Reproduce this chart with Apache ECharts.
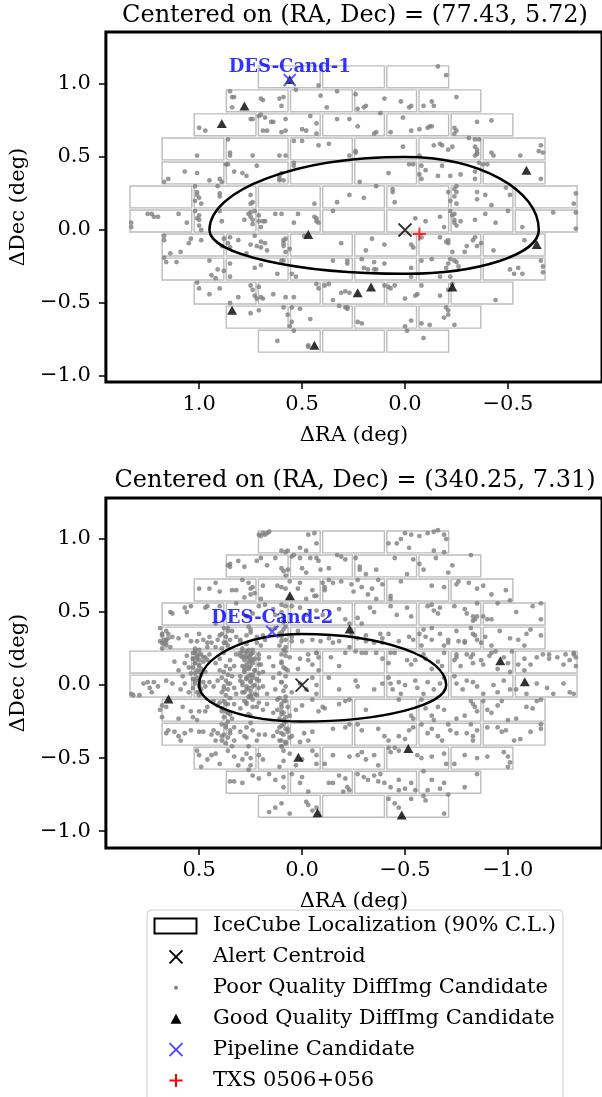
<!DOCTYPE html>
<html><head><meta charset="utf-8">
<script src="https://cdn.jsdelivr.net/npm/echarts@6/dist/echarts.min.js"></script>
<style>html,body{margin:0;padding:0;background:#fff}#chart{width:602px;height:1097px}</style>
</head><body><div id="chart"></div>
<script>
// ---------------- data ----------------
const panelTitles = ['Centered on (RA, Dec) = (77.43, 5.72)', 'Centered on (RA, Dec) = (340.25, 7.31)'];
const xTicks1 = [1.0, 0.5, 0.0, -0.5];
const xTicks2 = [0.5, 0.0, -0.5, -1.0];
const yTicks = [-1.0, -0.5, 0.0, 0.5, 1.0];
const xRange1 = [-0.957, 1.453];
const yRange1 = [-1.041, 1.356];
const xRange2 = [-1.457, 0.953];
const yRange2 = [-1.116, 1.281];

// DECam CCD footprint (degrees)
const ccdRowCounts = [3, 4, 5, 6, 6, 7, 7, 6, 6, 5, 4, 3];
const ccdSize = [0.300, 0.150];
const ccdPitch = [0.312, 0.1646];
const pointing1 = [0.25, 0.144];
const pointing2 = [-0.25, 0.075];

// IceCube 90% contour extents [RA+, RA-, Dec+, Dec-]
const contour1 = [0.95, 0.65, 0.50, 0.30];
const contour2 = [0.50, 0.70, 0.35, 0.25];

const alert1 = [[0, 0]];
const alert2 = [[0, 0]];
const pipeline1 = [[0.56, 1.027]];
const pipeline2 = [[0.145, 0.365]];
const pipelineNames = ['DES-Cand-1', 'DES-Cand-2'];
const txs1 = [[-0.07, -0.027]];

const good1 = [[0.78,0.85],[0.89,0.73],[-0.59,0.41],[0.47,-0.03],[-0.64,-0.10],[0.165,-0.39],[0.23,-0.43],[-0.23,-0.39],[0.84,-0.55],[0.44,-0.79],[0.56,1.03]];
const good2 = [[0.059,0.612],[-0.231,0.384],[-0.963,0.166],[-1.082,0.023],[0.649,-0.096],[-0.516,-0.434],[0.018,-0.495],[-0.075,-0.875],[-0.484,-0.890]];

const poor1 = [
[-0.16,1.12],[-0.20,1.06],[0.42,0.99],[0.53,0.96],
[0.85,0.95],[0.84,0.91],[0.83,0.91],[0.84,0.84],[0.70,0.90],[0.69,0.89],[0.61,0.90],[0.59,0.91],[0.60,0.85],[0.41,0.92],[0.38,0.84],[0.33,0.95],[0.24,0.93],[0.23,0.83],[0.20,0.84],[0.19,0.85],[0.10,0.90],[0.02,0.88],[-0.02,0.84],[-0.03,0.85],[-0.09,0.85],[-0.13,0.88],[-0.14,0.85],[-0.25,0.91],
[1.00,0.70],[0.97,0.68],[0.75,0.76],[0.74,0.76],[0.71,0.78],[0.70,0.79],[0.68,0.77],[0.69,0.68],[0.67,0.68],[0.65,0.74],[0.64,0.74],[0.58,0.76],[0.58,0.68],[0.60,0.67],[0.50,0.69],[0.48,0.68],[0.46,0.78],[0.43,0.66],[0.43,0.73],[0.33,0.76],[0.27,0.76],[0.23,0.71],[0.14,0.67],[0.15,0.66],[0.12,0.80],[0.07,0.67],[0.01,0.77],[-0.03,0.68],[-0.07,0.69],[-0.11,0.70],[-0.12,0.71],[-0.13,0.71],[-0.24,0.70],[-0.25,0.68],[-0.24,0.66],[-0.35,0.74],[-0.42,0.75],
[1.01,0.51],[0.86,0.62],[0.85,0.53],[0.85,0.51],[0.74,0.51],[0.61,0.51],[0.58,0.51],[0.54,0.61],[0.50,0.61],[0.42,0.58],[0.37,0.59],[0.24,0.54],[0.27,0.51],[0.24,0.53],[0.01,0.57],[-0.07,0.51],[-0.14,0.58],[-0.17,0.59],[-0.18,0.58],[-0.21,0.55],[-0.23,0.57],[-0.31,0.63],[-0.34,0.62],[-0.34,0.57],[-0.35,0.55],[-0.35,0.53],[-0.35,0.52],[-0.34,0.51],[-0.36,0.62],[-0.42,0.53],[-0.43,0.51],[-0.56,0.51],[-0.66,0.58],[-0.65,0.54],[-0.67,0.53],
[1.17,0.33],[1.15,0.35],[1.07,0.40],[1.01,0.39],[0.95,0.34],[0.90,0.35],[0.89,0.33],[0.87,0.45],[0.86,0.45],[0.83,0.40],[0.79,0.39],[0.77,0.37],[0.72,0.44],[0.61,0.35],[0.60,0.39],[0.61,0.37],[0.61,0.34],[0.59,0.34],[0.54,0.46],[0.54,0.44],[0.22,0.33],[0.08,0.39],[-0.02,0.45],[-0.04,0.45],[-0.08,0.44],[-0.07,0.38],[-0.08,0.35],[-0.10,0.41],[-0.16,0.37],[-0.18,0.44],[-0.22,0.37],[-0.27,0.38],[-0.34,0.40],[-0.34,0.35],[-0.36,0.46],[-0.38,0.45],[-0.40,0.45],[-0.66,0.35],
[1.02,0.30],[-0.25,0.26],[-0.35,0.26],
[1.01,0.26],[1.01,0.24],[1.00,0.22],[1.02,0.20],[0.99,0.18],[0.91,0.30],[0.90,0.25],[0.90,0.23],[0.75,0.24],[0.74,0.19],[0.75,0.18],[0.44,0.18],[0.33,0.19],[0.27,0.24],[0.20,0.22],[0.14,0.30],[0.06,0.28],[0.06,0.26],[0.05,0.19],[-0.21,0.26],[-0.24,0.28],[-0.24,0.23],[-0.25,0.30],[-0.22,0.20],[-0.25,0.18],[-0.35,0.21],[-0.39,0.24],[-0.42,0.17],[-0.49,0.29],[-0.51,0.24],[-0.83,0.25],[-0.82,0.18],
[1.33,0.05],[1.33,0.02],[1.25,0.11],[1.23,0.11],[1.22,0.09],[1.20,0.09],[1.10,0.11],[1.06,0.05],[1.02,0.13],[1.01,0.08],[1.00,0.10],[1.00,0.07],[1.00,0.03],[0.99,0.00],[0.89,0.06],[0.90,0.13],[0.78,0.07],[0.76,0.11],[0.75,0.12],[0.75,0.09],[0.73,0.13],[0.74,0.07],[0.74,0.04],[0.71,0.10],[0.71,0.06],[0.70,0.02],[0.69,0.06],[0.68,0.06],[0.63,0.11],[0.60,0.11],[0.54,0.05],[0.52,0.11],[0.44,0.09],[0.43,0.08],[0.43,0.06],[0.42,0.05],[0.35,0.13],[-0.05,0.08],[-0.10,0.06],[-0.17,0.09],[-0.19,0.02],[-0.22,0.13],[-0.23,0.10],[-0.24,0.11],[-0.24,0.07],[-0.24,0.05],[-0.25,0.03],[-0.27,0.06],[-0.34,0.07],[-0.39,0.11],[-0.44,0.05],[-0.50,0.13],[-0.57,0.02],[-0.72,0.12],[-0.83,0.01],[-0.83,0.12],
[1.17,-0.04],[1.17,-0.07],[1.14,-0.16],[1.09,-0.15],[1.05,-0.09],[1.04,-0.06],[0.99,-0.07],[0.89,-0.11],[0.88,-0.06],[0.86,-0.09],[0.85,-0.12],[0.85,-0.05],[0.81,-0.07],[0.77,-0.16],[0.75,-0.10],[0.73,-0.04],[0.72,-0.11],[0.70,-0.12],[0.70,-0.08],[0.68,-0.09],[0.67,-0.14],[0.59,-0.07],[0.59,-0.09],[0.59,-0.11],[0.58,-0.15],[0.56,-0.13],[0.58,-0.06],[0.49,-0.04],[0.31,-0.09],[0.19,-0.14],[0.16,-0.06],[0.10,-0.10],[-0.03,-0.10],[-0.04,-0.12],[-0.08,-0.05],[-0.17,-0.05],[-0.20,-0.08],[-0.21,-0.07],[-0.21,-0.09],[-0.23,-0.15],[-0.29,-0.15],[-0.30,-0.11],[-0.33,-0.07],[-0.35,-0.11],[-0.34,-0.05],[-0.37,-0.09],[-0.43,-0.14],[-0.58,-0.07],
[1.17,-0.19],[1.16,-0.22],[1.11,-0.22],[0.95,-0.21],[0.94,-0.31],[0.92,-0.33],[0.91,-0.27],[0.88,-0.28],[0.85,-0.23],[0.85,-0.32],[0.73,-0.26],[0.70,-0.24],[0.62,-0.30],[0.60,-0.21],[0.59,-0.21],[0.55,-0.30],[0.53,-0.32],[0.35,-0.21],[0.28,-0.21],[0.28,-0.23],[0.21,-0.20],[0.15,-0.22],[0.20,-0.26],[0.18,-0.27],[0.15,-0.27],[0.14,-0.27],[0.10,-0.23],[-0.03,-0.26],[-0.03,-0.32],[-0.08,-0.21],[-0.13,-0.20],[-0.17,-0.32],[-0.22,-0.32],[-0.20,-0.26],[-0.21,-0.23],[-0.22,-0.20],[-0.24,-0.21],[-0.25,-0.22],[-0.26,-0.25],[-0.51,-0.27],[-0.53,-0.30],[-0.55,-0.26],[-0.57,-0.30],[-0.66,-0.21],[-0.67,-0.25],[-0.67,-0.29],
[1.01,-0.36],[1.00,-0.40],[0.95,-0.44],[0.90,-0.40],[0.85,-0.50],[0.81,-0.46],[0.75,-0.38],[0.74,-0.41],[0.73,-0.45],[0.72,-0.47],[0.70,-0.46],[0.71,-0.39],[0.69,-0.47],[0.64,-0.44],[0.58,-0.46],[0.54,-0.46],[0.43,-0.37],[0.42,-0.40],[0.39,-0.38],[0.37,-0.37],[0.35,-0.48],[0.31,-0.43],[0.29,-0.42],[0.27,-0.43],[0.10,-0.38],[0.08,-0.39],[0.07,-0.40],[0.05,-0.38],[0.00,-0.47],[-0.05,-0.45],[-0.06,-0.44],[-0.08,-0.38],[-0.17,-0.45],[-0.21,-0.41],[-0.23,-0.37],[-0.44,-0.48],
[0.71,-0.55],[0.75,-0.57],[0.59,-0.53],[0.55,-0.53],[0.51,-0.54],[0.57,-0.58],[0.46,-0.61],[0.55,-0.63],[0.56,-0.66],[0.54,-0.69],[0.32,-0.52],[0.29,-0.53],[0.28,-0.54],[0.28,-0.53],[0.23,-0.63],[0.21,-0.64],[0.00,-0.66],[-0.01,-0.69],[-0.03,-0.62],[-0.08,-0.64],[-0.12,-0.65],[-0.19,-0.60],[-0.21,-0.55],[-0.21,-0.58],[-0.20,-0.53],[-0.24,-0.65],
[0.62,-0.76],[0.47,-0.80],[0.47,-0.79],[-0.09,-0.74]
];

const poor2 = [
[0.21,1.03],[0.19,1.04],[0.18,1.03],[0.16,1.05],[0.20,1.02],[0.17,1.04],[0.08,0.91],[0.10,0.92],[0.07,0.92],[0.01,0.94],[-0.02,0.92],[-0.03,1.03],[-0.06,1.04],[-0.07,0.97],[-0.42,0.97],[-0.46,0.97],[-0.48,1.00],[-0.50,1.04],[-0.53,1.03],[-0.52,0.94],[-0.57,1.02],[-0.61,1.04],[-0.64,1.05],[-0.66,1.06],[-0.69,1.03],[-0.70,1.00],[-0.64,0.92],[-0.69,0.91],
[0.36,0.82],[0.35,0.83],[0.35,0.81],[0.31,0.85],[0.28,0.81],[0.22,0.85],[0.20,0.87],[0.17,0.82],[0.13,0.87],[0.10,0.80],[0.09,0.78],[0.08,0.75],[0.07,0.79],[0.05,0.88],[0.04,0.89],[0.01,0.87],[0.00,0.80],[-0.02,0.77],[-0.04,0.87],[-0.07,0.87],[-0.08,0.85],[-0.09,0.79],[-0.13,0.80],[-0.17,0.89],[-0.19,0.88],[-0.21,0.86],[-0.26,0.87],[-0.28,0.81],[-0.28,0.79],[-0.31,0.76],[-0.36,0.79],[-0.45,0.87],[-0.51,0.76],[-0.54,0.86],[-0.57,0.83],[-0.59,0.79],[-0.65,0.87],[-0.71,0.77],[-0.73,0.82],[-0.82,0.89],
[0.50,0.66],[0.45,0.66],[0.42,0.70],[0.40,0.64],[0.34,0.65],[0.32,0.65],[0.29,0.72],[0.28,0.60],[0.26,0.70],[0.25,0.66],[0.24,0.67],[0.25,0.62],[0.23,0.63],[0.19,0.68],[0.20,0.59],[0.12,0.68],[0.10,0.67],[0.08,0.66],[0.06,0.71],[0.01,0.70],[0.02,0.66],[-0.05,0.65],[-0.06,0.61],[-0.07,0.61],[-0.02,0.59],[-0.10,0.70],[-0.11,0.67],[-0.13,0.72],[-0.11,0.65],[-0.15,0.70],[-0.19,0.71],[-0.24,0.69],[-0.25,0.64],[-0.27,0.72],[-0.29,0.67],[-0.32,0.62],[-0.34,0.66],[-0.37,0.72],[-0.39,0.69],[-0.36,0.59],[-0.43,0.61],[-0.43,0.59],[-0.48,0.71],[-0.63,0.68],[-0.69,0.67],[-0.75,0.69],[-0.76,0.71],[-0.81,0.70],[-0.85,0.66],[-0.88,0.68],[-0.92,0.62],[-0.99,0.65],[-1.01,0.58],
[0.64,0.50],[0.63,0.49],[0.57,0.53],[0.56,0.50],[0.54,0.54],[0.47,0.53],[0.46,0.54],[0.42,0.42],[0.40,0.54],[0.32,0.56],[0.27,0.47],[0.24,0.49],[0.21,0.54],[0.18,0.55],[0.14,0.52],[0.13,0.48],[0.10,0.55],[0.10,0.50],[0.09,0.47],[0.09,0.43],[0.08,0.54],[0.05,0.54],[0.01,0.53],[-0.02,0.48],[-0.07,0.51],[-0.10,0.48],[-0.18,0.52],[-0.21,0.45],[-0.23,0.42],[-0.27,0.46],[-0.29,0.42],[-0.33,0.53],[-0.35,0.50],[-0.43,0.54],[-0.46,0.48],[-0.51,0.53],[-0.53,0.47],[-0.61,0.54],[-0.63,0.55],[-0.64,0.51],[-0.66,0.49],[-0.67,0.53],[-0.74,0.54],[-0.79,0.52],[-0.80,0.49],[-0.83,0.47],[-0.83,0.44],[-0.84,0.45],[-0.85,0.47],[-0.85,0.56],[-0.88,0.47],[-0.90,0.45],[-0.92,0.45],[-0.95,0.56],[-1.04,0.50],[-1.12,0.54],[-1.16,0.56],[-1.16,0.45],
[0.68,0.35],[0.67,0.31],[0.68,0.29],[0.66,0.29],[0.66,0.31],[0.65,0.35],[0.63,0.33],[0.60,0.32],[0.56,0.34],[0.54,0.30],[0.50,0.35],[0.48,0.31],[0.46,0.26],[0.45,0.33],[0.44,0.29],[0.40,0.34],[0.41,0.31],[0.42,0.26],[0.36,0.39],[0.34,0.37],[0.32,0.33],[0.30,0.31],[0.27,0.34],[0.25,0.38],[0.22,0.33],[0.19,0.34],[0.20,0.27],[0.18,0.31],[0.15,0.38],[0.13,0.39],[0.11,0.35],[0.10,0.33],[0.09,0.38],[0.10,0.30],[0.08,0.26],[0.08,0.31],[0.05,0.33],[0.02,0.37],[0.00,0.30],[-0.05,0.31],[-0.09,0.30],[-0.13,0.32],[-0.18,0.30],[-0.24,0.35],[-0.27,0.32],[-0.31,0.34],[-0.35,0.29],[-0.38,0.35],[-0.39,0.32],[-0.42,0.35],[-0.47,0.30],[-0.52,0.33],[-0.54,0.31],[-0.57,0.35],[-0.59,0.38],[-0.60,0.33],[-0.63,0.31],[-0.63,0.39],[-0.67,0.35],[-0.69,0.27],[-0.71,0.31],[-0.75,0.37],[-0.76,0.30],[-0.79,0.29],[-0.83,0.35],[-0.84,0.34],[-0.85,0.31],[-0.82,0.39],[-0.89,0.33],[-0.92,0.27],[-0.96,0.37],[-1.01,0.32],[-1.05,0.31],[-1.09,0.35],[-1.11,0.38],[-1.16,0.34],
[0.66,0.27],[0.51,0.30],[0.46,0.29],[0.37,0.29],[0.30,0.30],[0.22,0.29],[0.11,0.27],[0.05,0.30],[-0.15,0.29],[-0.23,0.26],[-0.31,0.30],[-0.39,0.29],[-0.58,0.27],[-0.71,0.29],[-0.79,0.30],[-0.87,0.29],[-1.08,0.27],
[0.52,0.23],[0.51,0.19],[0.50,0.21],[0.30,0.22],[0.29,0.19],[0.27,0.23],[0.26,0.19],[0.25,0.21],[0.24,0.22],[0.08,0.23],[0.06,0.19],[-0.03,0.21],[-0.07,0.22],[-0.08,0.19],[-0.21,0.22],[-0.26,0.23],[-0.36,0.22],[-0.45,0.22],[-0.75,0.19],[-0.80,0.21],[-0.83,0.21],[-0.92,0.22],[-0.94,0.23],[-1.02,0.23],[-1.08,0.18],[-1.14,0.19],[-1.20,0.21],[-1.28,0.21],[-1.32,0.22],[-1.33,0.19],
[0.52,0.22],[0.51,0.18],[0.52,0.15],[0.50,0.13],[0.50,0.09],[0.48,0.19],[0.46,0.17],[0.45,0.21],[0.42,0.15],[0.40,0.18],[0.38,0.22],[0.35,0.17],[0.33,0.13],[0.32,0.21],[0.29,0.23],[0.27,0.19],[0.26,0.16],[0.25,0.13],[0.25,0.21],[0.24,0.17],[0.23,0.10],[0.28,0.10],[0.21,0.18],[0.20,0.14],[0.19,0.09],[0.16,0.19],[0.14,0.13],[0.10,0.21],[0.10,0.15],[0.08,0.11],[0.01,0.18],[0.02,0.11],[-0.03,0.17],[-0.05,0.14],[-0.07,0.22],[-0.08,0.10],[-0.14,0.19],[-0.18,0.13],[-0.29,0.22],[-0.31,0.22],[-0.39,0.18],[-0.42,0.15],[-0.43,0.22],[-0.51,0.17],[-0.53,0.14],[-0.55,0.17],[-0.59,0.21],[-0.60,0.18],[-0.63,0.11],[-0.66,0.16],[-0.69,0.22],[-0.68,0.13],[-0.74,0.17],[-0.75,0.21],[-0.77,0.13],[-0.82,0.19],[-0.83,0.15],[-0.87,0.17],[-0.88,0.14],[-0.91,0.20],[-0.95,0.11],[-0.98,0.19],[-1.00,0.15],[-1.01,0.09],[-1.05,0.14],[-1.08,0.10],[-1.11,0.14],[-1.17,0.21],[-1.20,0.18],[-1.24,0.19],[-1.27,0.14],[-1.30,0.17],[-1.32,0.21],[-1.33,0.13],
[0.83,-0.06],[0.82,-0.07],[0.79,-0.07],[0.77,0.01],[0.75,0.02],[0.74,-0.02],[0.73,-0.05],[0.72,0.02],[0.70,-0.01],[0.66,0.03],[0.63,0.01],[0.59,-0.03],[0.57,0.01],[0.55,-0.05],[0.52,0.03],[0.50,0.00],[0.50,-0.05],[0.45,0.02],[0.43,-0.01],[0.41,0.03],[0.38,-0.03],[0.36,0.01],[0.33,-0.02],[0.32,-0.06],[0.30,0.03],[0.29,0.00],[0.27,-0.03],[0.26,0.06],[0.25,0.02],[0.24,-0.01],[0.23,-0.06],[0.25,-0.07],[0.21,0.03],[0.19,-0.01],[0.17,-0.06],[0.14,0.05],[0.13,-0.03],[0.10,0.02],[0.08,-0.01],[0.05,-0.05],[0.01,0.01],[-0.02,-0.03],[-0.05,0.05],[-0.07,0.00],[-0.07,-0.06],[-0.13,0.05],[-0.18,-0.03],[-0.26,0.03],[-0.27,-0.01],[-0.35,-0.03],[-0.39,0.01],[-0.42,0.05],[-0.43,0.01],[-0.44,-0.03],[-0.47,0.02],[-0.48,-0.06],[-0.50,0.00],[-0.55,0.03],[-0.56,-0.02],[-0.59,-0.06],[-0.61,0.02],[-0.64,-0.03],[-0.67,0.01],[-0.69,0.05],[-0.74,0.06],[-0.75,0.01],[-0.78,-0.03],[-0.80,0.03],[-0.83,0.02],[-0.85,-0.01],[-0.88,-0.06],[-0.93,0.00],[-0.95,-0.05],[-0.98,0.03],[-1.01,-0.03],[-1.04,-0.03],[-1.09,-0.06],[-1.14,0.01],[-1.19,-0.02],[-1.22,-0.06],[-1.27,0.01],[-1.30,-0.05],[-1.32,-0.06],
[0.68,-0.14],[0.69,-0.17],[0.68,-0.22],[0.66,-0.15],[0.60,-0.23],[0.58,-0.15],[0.54,-0.18],[0.53,-0.22],[0.51,-0.24],[0.50,-0.18],[0.47,-0.18],[0.46,-0.15],[0.43,-0.11],[0.41,-0.14],[0.39,-0.18],[0.37,-0.13],[0.36,-0.19],[0.34,-0.23],[0.33,-0.13],[0.30,-0.16],[0.27,-0.13],[0.25,-0.21],[0.22,-0.15],[0.19,-0.17],[0.17,-0.13],[0.14,-0.19],[0.12,-0.10],[0.10,-0.15],[0.10,-0.18],[0.09,-0.11],[0.08,-0.22],[0.03,-0.17],[0.00,-0.14],[-0.05,-0.10],[-0.08,-0.18],[-0.10,-0.15],[-0.11,-0.16],[-0.18,-0.13],[-0.21,-0.11],[-0.23,-0.10],[-0.31,-0.17],[-0.47,-0.10],[-0.53,-0.21],[-0.54,-0.23],[-0.58,-0.10],[-0.60,-0.16],[-0.63,-0.21],[-0.64,-0.24],[-0.66,-0.15],[-0.69,-0.17],[-0.75,-0.23],[-0.79,-0.21],[-0.82,-0.11],[-0.83,-0.13],[-0.84,-0.15],[-0.85,-0.18],[-0.88,-0.11],[-0.90,-0.17],[-0.92,-0.19],[-0.95,-0.14],[-0.97,-0.11],[-1.00,-0.24],[-1.04,-0.23],[-1.09,-0.15],[-1.12,-0.16],[-1.14,-0.11],[-1.16,-0.10],
[0.66,-0.33],[0.65,-0.31],[0.62,-0.32],[0.60,-0.35],[0.59,-0.38],[0.57,-0.33],[0.54,-0.31],[0.50,-0.32],[0.48,-0.32],[0.44,-0.34],[0.43,-0.31],[0.42,-0.38],[0.41,-0.33],[0.39,-0.35],[0.37,-0.27],[0.35,-0.33],[0.33,-0.29],[0.33,-0.38],[0.30,-0.32],[0.28,-0.35],[0.27,-0.29],[0.24,-0.31],[0.22,-0.38],[0.21,-0.34],[0.18,-0.34],[0.14,-0.35],[0.11,-0.29],[0.10,-0.33],[0.10,-0.38],[0.09,-0.27],[0.07,-0.32],[0.08,-0.39],[0.05,-0.35],[0.01,-0.39],[-0.01,-0.33],[-0.03,-0.38],[-0.05,-0.32],[-0.15,-0.30],[-0.21,-0.29],[-0.23,-0.27],[-0.27,-0.27],[-0.29,-0.31],[-0.37,-0.30],[-0.40,-0.35],[-0.42,-0.38],[-0.47,-0.35],[-0.50,-0.37],[-0.52,-0.31],[-0.54,-0.29],[-0.58,-0.27],[-0.61,-0.33],[-0.63,-0.30],[-0.66,-0.35],[-0.68,-0.38],[-0.71,-0.27],[-0.72,-0.31],[-0.75,-0.33],[-0.80,-0.33],[-0.83,-0.38],[-0.83,-0.35],[-0.85,-0.31],[-0.82,-0.27],[-0.90,-0.29],[-0.95,-0.29],[-0.97,-0.32],[-0.99,-0.31],[-1.03,-0.38],[-1.06,-0.37],[-1.11,-0.32],[-1.16,-0.30],[-1.16,-0.27],
[0.51,-0.45],[0.50,-0.48],[0.49,-0.56],[0.46,-0.51],[0.44,-0.48],[0.42,-0.47],[0.40,-0.54],[0.36,-0.45],[0.33,-0.49],[0.31,-0.55],[0.29,-0.51],[0.27,-0.47],[0.25,-0.55],[0.21,-0.48],[0.19,-0.51],[0.09,-0.45],[0.06,-0.47],[0.03,-0.55],[0.00,-0.51],[-0.05,-0.45],[-0.07,-0.48],[-0.07,-0.54],[-0.11,-0.54],[-0.15,-0.48],[-0.23,-0.49],[-0.27,-0.48],[-0.29,-0.46],[-0.31,-0.51],[-0.35,-0.48],[-0.37,-0.55],[-0.42,-0.43],[-0.43,-0.46],[-0.45,-0.43],[-0.47,-0.45],[-0.56,-0.48],[-0.58,-0.50],[-0.63,-0.49],[-0.69,-0.47],[-0.70,-0.54],[-0.74,-0.54],[-0.79,-0.48],[-0.85,-0.50],[-0.90,-0.49],[-0.98,-0.46],[-1.00,-0.49],[-1.01,-0.53],[-1.00,-0.56],
[0.35,-0.66],[0.33,-0.66],[0.29,-0.67],[0.24,-0.62],[0.21,-0.64],[0.16,-0.61],[0.13,-0.65],[0.09,-0.63],[0.09,-0.70],[0.05,-0.61],[0.01,-0.67],[0.00,-0.63],[-0.03,-0.73],[-0.13,-0.67],[-0.15,-0.67],[-0.18,-0.62],[-0.21,-0.64],[-0.22,-0.70],[-0.23,-0.72],[-0.20,-0.73],[-0.27,-0.61],[-0.30,-0.63],[-0.32,-0.65],[-0.35,-0.62],[-0.37,-0.66],[-0.38,-0.61],[-0.40,-0.67],[-0.43,-0.70],[-0.47,-0.65],[-0.47,-0.72],[-0.50,-0.71],[-0.53,-0.67],[-0.55,-0.72],[-0.59,-0.59],[-0.61,-0.72],[-0.63,-0.65],[-0.67,-0.71],[-0.69,-0.67],[-0.71,-0.75],[-0.79,-0.70],[-0.85,-0.61],
[0.16,-0.87],[0.13,-0.84],[0.10,-0.81],[0.06,-0.88],[-0.02,-0.80],[-0.03,-0.82],[-0.05,-0.86],[-0.07,-0.84],[-0.42,-0.78],[-0.45,-0.81],[-0.47,-0.84],[-0.53,-0.78],[-0.59,-0.76],[-0.60,-0.79],[-0.69,-0.88],
[0.26,0.40],[0.25,0.36],[0.27,0.28],[0.26,0.24],[0.25,0.18],[0.27,0.14],[0.26,0.11],[0.25,0.07],[0.27,0.04],[0.26,-0.02],[0.25,-0.08],[0.27,-0.12],[0.26,-0.20],[0.25,-0.26],[0.27,-0.36],[0.26,-0.42],[0.25,-0.50],[0.26,-0.58],[0.24,0.15],[0.28,0.12],[0.28,0.20],[0.24,0.05],[0.28,-0.05],[0.24,-0.15],
[0.09,0.44],[0.08,0.40],[0.10,0.36],[0.09,0.24],[0.08,0.20],[0.10,0.16],[0.09,0.12],[0.08,0.06],[0.10,0.02],[0.09,-0.04],[0.08,-0.08],[0.10,-0.20],[0.09,-0.24],[0.08,-0.30],[0.10,-0.42],[0.09,-0.52],[0.11,-0.56],[0.07,0.10],[0.11,0.08],
[0.55,0.12],[0.57,0.15],[0.53,0.18],[0.56,0.20],[0.60,0.10],[0.58,0.06],[0.54,0.08],[0.62,0.16],
[0.52,0.25],[0.50,0.24],[0.53,0.22],[0.49,0.21],[0.51,0.20],[0.53,0.18],[0.50,0.17],[0.48,0.16],[0.52,0.15],[0.50,0.14],[0.53,0.12],[0.49,0.11],[0.51,0.10],[0.52,0.08],[0.49,0.07],[0.51,0.05],[0.53,0.04],[0.50,0.03],[0.48,0.02],[0.52,0.01],[0.50,-0.01],[0.53,-0.02],[0.49,-0.03],[0.51,-0.05],[0.50,-0.07],[0.47,0.19],[0.47,0.09],[0.47,-0.01],
[0.38,0.39],[0.36,0.37],[0.39,0.35],[0.37,0.33],[0.35,0.31],[0.38,0.29],[0.36,0.27],[0.39,0.25],[0.37,0.13],[0.35,0.11],[0.38,0.09],[0.36,0.07],[0.39,0.05],[0.37,0.03],[0.35,0.01],[0.38,-0.01],[0.36,-0.03],[0.39,-0.05],[0.37,-0.07],[0.35,-0.09],[0.38,-0.11],[0.36,-0.13],[0.39,-0.16],[0.37,-0.18],[0.35,-0.20],[0.38,-0.22],[0.36,-0.25],[0.39,-0.27],[0.37,-0.29],[0.35,-0.31],[0.38,-0.34],[0.36,-0.36],[0.39,-0.38],[0.37,-0.40],[0.34,-0.42],[0.40,-0.12],[0.34,0.06],[0.40,0.10],
[0.29,0.25],[0.24,0.24],[0.27,0.22],[0.21,0.21],[0.30,0.20],[0.23,0.18],[0.28,0.17],[0.25,0.16],[0.21,0.14],[0.29,0.13],[0.26,0.12],[0.23,0.10],[0.28,0.09],[0.21,0.08],[0.24,0.07],[0.30,0.06],[0.27,0.05],[0.22,0.04],[0.25,0.03],[0.29,0.02],[0.23,0.00],[0.27,-0.01],[0.21,-0.02],[0.25,-0.04],[0.29,-0.05],[0.22,-0.07],[0.26,-0.08],[0.24,-0.10],[0.28,-0.11],[0.21,-0.12],
[0.11,-0.09],[0.08,-0.11],[0.10,-0.13],[0.07,-0.15],[0.12,-0.17],[0.09,-0.19],[0.06,-0.21],[0.11,-0.23],[0.08,-0.25],[0.10,-0.28],[0.07,-0.30],[0.12,-0.32],[0.09,-0.34],[0.06,-0.36],[0.11,-0.38],[0.08,-0.40],[0.10,-0.42],
[0.69,0.39],[0.66,0.37],[0.68,0.34],[0.65,0.32],[0.69,0.30],[0.67,0.28],[0.64,0.26],[0.68,0.25]
];

// ---------------- chart ----------------
const FONT = 'DejaVu Serif';
const X_PATH = 'path://M0,0L10,10M10,0L0,10';
const PLUS_PATH = 'path://M5,0L5,10M0,5L10,5';

function fmt(v) { const s = Math.abs(v).toFixed(1); return v < 0 ? '\u2212' + s : s; }

function ccdCenters(pointing) {
  const out = [];
  const n = ccdRowCounts.length;
  ccdRowCounts.forEach((cnt, r) => {
    const yc = pointing[1] + ((n - 1) / 2 - r) * ccdPitch[1];
    for (let i = 0; i < cnt; i++) {
      out.push([pointing[0] + ((cnt - 1) / 2 - i) * ccdPitch[0], yc]);
    }
  });
  return out;
}

function ccdRender(params, api) {
  const xc = api.value(0), yc = api.value(1);
  const a = api.coord([xc + ccdSize[0] / 2, yc + ccdSize[1] / 2]);
  const b = api.coord([xc - ccdSize[0] / 2, yc - ccdSize[1] / 2]);
  return {
    type: 'rect',
    shape: { x: Math.min(a[0], b[0]), y: Math.min(a[1], b[1]), width: Math.abs(b[0] - a[0]), height: Math.abs(b[1] - a[1]) },
    style: { fill: 'rgba(255,255,255,0)', stroke: '#bdbdbd', lineWidth: 1.4 }
  };
}

function contourRender(params, api) {
  const rp = api.value(0), rm = api.value(1), dp = api.value(2), dm = api.value(3);
  const c = api.coord([0, 0]);
  const L = api.coord([rp, 0]), R = api.coord([-rm, 0]), T = api.coord([0, dp]), B = api.coord([0, -dm]);
  const k = 0.5523;
  const style = { fill: 'none', stroke: '#000', lineWidth: 2.5 };
  const seg = (p0, cp1, cp2, p1) => ({ type: 'bezierCurve', shape: { x1: p0[0], y1: p0[1], cpx1: cp1[0], cpy1: cp1[1], cpx2: cp2[0], cpy2: cp2[1], x2: p1[0], y2: p1[1] }, style });
  return {
    type: 'group',
    children: [
      seg(L, [L[0], c[1] + k * (T[1] - c[1])], [c[0] + k * (L[0] - c[0]), T[1]], T),
      seg(T, [c[0] + k * (R[0] - c[0]), T[1]], [R[0], c[1] + k * (T[1] - c[1])], R),
      seg(R, [R[0], c[1] + k * (B[1] - c[1])], [c[0] + k * (R[0] - c[0]), B[1]], B),
      seg(B, [c[0] + k * (L[0] - c[0]), B[1]], [L[0], c[1] + k * (B[1] - c[1])], L)
    ]
  };
}

function xAxisCfg(gi, range, ticks) {
  return {
    type: 'value', gridIndex: gi, min: range[0], max: range[1], inverse: true, position: 'bottom',
    name: '\u0394RA (deg)', nameLocation: 'middle', nameGap: 43,
    nameTextStyle: { fontFamily: FONT, fontSize: 21, color: '#000' },
    axisLine: { show: false, onZero: false }, splitLine: { show: false },
    axisTick: { show: true, inside: false, length: 7, customValues: ticks, lineStyle: { color: '#000', width: 1.5 } },
    axisLabel: { show: true, customValues: ticks, margin: 12, formatter: fmt, fontFamily: FONT, fontSize: 21, color: '#000' }
  };
}
function yAxisCfg(gi, range) {
  return {
    type: 'value', gridIndex: gi, min: range[0], max: range[1], position: 'left',
    name: '\u0394Dec (deg)', nameLocation: 'middle', nameGap: 73,
    nameTextStyle: { fontFamily: FONT, fontSize: 21, color: '#000' },
    axisLine: { show: false, onZero: false }, splitLine: { show: false },
    axisTick: { show: true, inside: false, length: 7, customValues: yTicks, lineStyle: { color: '#000', width: 1.5 } },
    axisLabel: { show: true, customValues: yTicks, margin: 15, formatter: fmt, fontFamily: FONT, fontSize: 21, color: '#000' }
  };
}

function panelSeries(p, pointing, contour, poor, good, alert, pipeline, txs) {
  const s = [
    { type: 'custom', xAxisIndex: p, yAxisIndex: p, data: ccdCenters(pointing), renderItem: ccdRender, z: 1, silent: true },
    { type: 'scatter', xAxisIndex: p, yAxisIndex: p, data: poor, symbol: 'circle', symbolSize: 4.8, itemStyle: { color: '#7f7f7f' }, z: 2, silent: true },
    { type: 'scatter', xAxisIndex: p, yAxisIndex: p, data: good, symbol: 'triangle', symbolSize: [10, 9], itemStyle: { color: '#000' }, z: 3, silent: true },
    { type: 'custom', xAxisIndex: p, yAxisIndex: p, data: [contour], renderItem: contourRender, z: 4, silent: true },
    { type: 'scatter', xAxisIndex: p, yAxisIndex: p, data: alert, symbol: X_PATH, symbolSize: 13, itemStyle: { color: 'rgba(0,0,0,0)', borderColor: '#000', borderWidth: 1.8 }, z: 5, silent: true },
    { type: 'scatter', xAxisIndex: p, yAxisIndex: p, data: pipeline, symbol: X_PATH, symbolSize: 12, itemStyle: { color: 'rgba(0,0,0,0)', borderColor: '#3a3aff', borderWidth: 2 }, z: 6, silent: true,
      label: { show: true, formatter: pipelineNames[p], position: 'top', distance: -3, color: '#0000ff', textBorderWidth: 0, fontWeight: 'bold', fontFamily: FONT, fontSize: 18 } }
  ];
  if (txs) s.push({ type: 'scatter', xAxisIndex: p, yAxisIndex: p, data: txs, symbol: PLUS_PATH, symbolSize: 13, itemStyle: { color: 'rgba(0,0,0,0)', borderColor: '#ff0000', borderWidth: 2 }, z: 6, silent: true });
  return s;
}

// legend (drawn with graphic elements)
const legendLabels = ['IceCube Localization (90% C.L.)', 'Alert Centroid', 'Poor Quality DiffImg Candidate', 'Good Quality DiffImg Candidate', 'Pipeline Candidate', 'TXS 0506+056'];
function cross(cx, cy, h, color, w) {
  return [
    { type: 'line', shape: { x1: cx - h, y1: cy - h, x2: cx + h, y2: cy + h }, style: { stroke: color, lineWidth: w }, z: 101 },
    { type: 'line', shape: { x1: cx - h, y1: cy + h, x2: cx + h, y2: cy - h }, style: { stroke: color, lineWidth: w }, z: 101 }
  ];
}
function plus(cx, cy, h, color, w) {
  return [
    { type: 'line', shape: { x1: cx, y1: cy - h, x2: cx, y2: cy + h }, style: { stroke: color, lineWidth: w }, z: 101 },
    { type: 'line', shape: { x1: cx - h, y1: cy, x2: cx + h, y2: cy }, style: { stroke: color, lineWidth: w }, z: 101 }
  ];
}
const LX = 176, LY0 = 926, LDY = 30.9;
const legendGraphics = [
  { type: 'rect', shape: { x: 147, y: 910, width: 416, height: 195, r: 4 }, style: { fill: 'rgba(255,255,255,0.85)', stroke: '#cccccc', lineWidth: 1 }, z: 100 },
  { type: 'rect', shape: { x: 154.5, y: 918.5, width: 42, height: 15 }, style: { fill: 'none', stroke: '#000', lineWidth: 2 }, z: 101 },
  ...cross(LX, LY0 + LDY, 6.5, '#000', 2),
  { type: 'circle', shape: { cx: LX, cy: LY0 + 2 * LDY, r: 2 }, style: { fill: '#808080' }, z: 101 },
  { type: 'polygon', shape: { points: [[LX, LY0 + 3 * LDY - 5], [LX + 5.5, LY0 + 3 * LDY + 5], [LX - 5.5, LY0 + 3 * LDY + 5]] }, style: { fill: '#000' }, z: 101 },
  ...cross(LX, LY0 + 4 * LDY, 6.5, '#4a4aff', 2),
  ...plus(LX, LY0 + 5 * LDY, 6.5, '#ff0000', 2),
  ...legendLabels.map((t, i) => ({ type: 'text', x: 213, y: LY0 + i * LDY, style: { text: t, fontFamily: FONT, fontSize: 21, fill: '#000', verticalAlign: 'middle', align: 'left' }, z: 101 }))
];

const chart = echarts.init(document.getElementById('chart'), null, { renderer: 'canvas', width: 602, height: 1097 });
chart.setOption({
  animation: false,
  backgroundColor: '#ffffff',
  title: [
    { text: panelTitles[0], left: 355, top: 4, padding: 0, textAlign: 'center', textStyle: { fontFamily: FONT, fontSize: 24, fontWeight: 'normal', color: '#000' } },
    { text: panelTitles[1], left: 355, top: 469, padding: 0, textAlign: 'center', textStyle: { fontFamily: FONT, fontSize: 24, fontWeight: 'normal', color: '#000' } }
  ],
  grid: [
    { left: 105, top: 32, width: 500, height: 350, show: true, borderColor: '#000', borderWidth: 3, backgroundColor: 'rgba(0,0,0,0)' },
    { left: 105, top: 498, width: 500, height: 350, show: true, borderColor: '#000', borderWidth: 3, backgroundColor: 'rgba(0,0,0,0)' }
  ],
  xAxis: [xAxisCfg(0, xRange1, xTicks1), xAxisCfg(1, xRange2, xTicks2)],
  yAxis: [yAxisCfg(0, yRange1), yAxisCfg(1, yRange2)],
  series: [
    ...panelSeries(0, pointing1, contour1, poor1, good1, alert1, pipeline1, txs1),
    ...panelSeries(1, pointing2, contour2, poor2, good2, alert2, pipeline2, null)
  ],
  graphic: legendGraphics
});
</script>
</body></html>
